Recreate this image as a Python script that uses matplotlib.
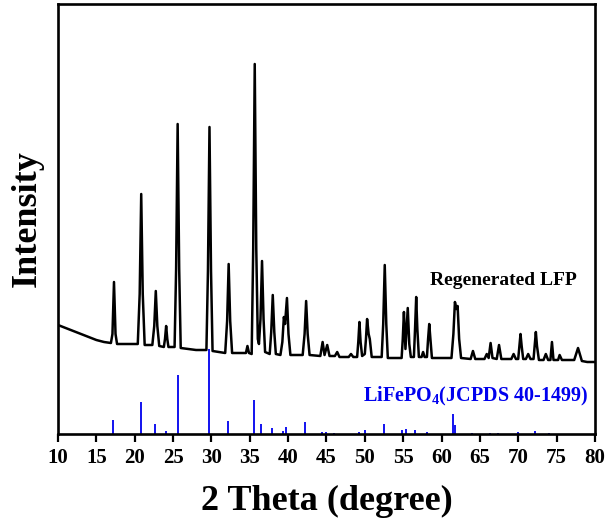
import matplotlib
matplotlib.use("Agg")
import matplotlib.pyplot as plt

plt.rcParams['font.family'] = ['Liberation Serif', 'DejaVu Serif']
plt.rcParams['font.weight'] = 'bold'
plt.rcParams['mathtext.fontset'] = 'custom'
plt.rcParams['mathtext.rm'] = 'Liberation Serif:bold'
plt.rcParams['mathtext.it'] = 'Liberation Serif:bold'
plt.rcParams['mathtext.bf'] = 'Liberation Serif:bold'

# Regenerated LFP measured pattern (2theta, intensity in arbitrary units)
trace_2theta = [
    10.0, 11.0, 12.0, 13.0, 14.0, 15.0, 16.0, 16.9, 17.1, 17.3, 17.5, 17.7,
    18.5, 19.5, 20.4, 20.65, 20.85, 21.05, 21.3, 22.3, 22.55, 22.75, 22.95, 23.2,
    23.8, 23.95, 24.1, 24.25, 24.4, 25.2, 25.4, 25.6, 25.8, 26.0, 27.0, 28.0,
    29.0, 29.35, 29.55, 29.75, 29.95, 30.15, 31.0, 31.8, 32.05, 32.25, 32.45, 32.7,
    34.0, 34.5, 34.7, 34.9, 35.25, 35.45, 35.65, 35.85, 36.05, 36.2, 36.4, 36.6,
    36.8, 37.0, 37.6, 37.8, 38.0, 38.2, 38.4, 39.0, 39.25, 39.45, 39.6, 39.85,
    40.05, 40.3, 41.9, 42.15, 42.35, 42.55, 42.8, 44.2, 44.5, 44.75, 45.1, 45.4,
    46.1, 46.4, 46.7, 47.9, 48.2, 48.5, 49.0, 49.15, 49.3, 49.45, 49.65, 50.0,
    50.15, 50.3, 50.5, 50.65, 50.9, 52.2, 52.4, 52.6, 52.8, 53.0, 54.8, 54.95,
    55.1, 55.3, 55.45, 55.6, 55.8, 56.0, 56.4, 56.55, 56.7, 56.85, 57.05, 57.4,
    57.6, 57.8, 58.1, 58.25, 58.4, 58.55, 58.75, 61.3, 61.55, 61.75, 61.95, 62.1,
    62.3, 62.55, 63.8, 64.1, 64.4, 65.6, 65.9, 66.15, 66.4, 66.65, 67.2, 67.5,
    67.8, 69.1, 69.4, 69.7, 70.0, 70.15, 70.3, 70.45, 70.65, 71.0, 71.3, 71.6,
    72.0, 72.15, 72.3, 72.45, 72.7, 73.3, 73.6, 73.9, 74.2, 74.4, 74.6, 75.2,
    75.4, 75.7, 77.3, 77.8, 78.3, 79.0, 80.0,
]
trace_intensity = [
    109, 106, 103, 100, 97, 94, 92, 91, 100, 152, 100, 90,
    90, 90, 90, 140, 240, 140, 89, 89, 108, 143, 108, 88,
    87, 95, 108, 95, 87, 87, 165, 310, 165, 86, 85, 84,
    84, 84, 163, 307, 163, 83, 82, 81, 113, 170, 113, 81,
    81, 81, 88, 81, 80, 185, 370, 185, 95, 90, 115, 173,
    115, 82, 80, 102, 139, 102, 80, 79, 92, 117, 110, 136,
    100, 79, 79, 100, 133, 100, 79, 78, 92, 79, 89, 78,
    78, 82, 77, 77, 80, 77, 77, 92, 112, 92, 78, 80,
    95, 115, 100, 95, 77, 77, 110, 169, 110, 76, 76, 95,
    122, 85, 105, 126, 90, 77, 77, 105, 137, 105, 77, 77,
    82, 77, 77, 95, 110, 95, 76, 76, 100, 132, 125, 128,
    95, 76, 75, 83, 75, 75, 80, 76, 91, 76, 75, 89,
    75, 75, 80, 75, 75, 88, 100, 88, 75, 75, 80, 75,
    75, 88, 102, 88, 74, 74, 80, 74, 74, 92, 74, 74,
    79, 74, 74, 86, 73, 72, 72,
]

# Reference pattern LiFePO4 (JCPDS 40-1499)
ref_2theta = [17.2, 20.8, 22.7, 24.1, 25.6, 29.7, 32.2, 35.6, 36.5, 37.9,
              39.3, 39.7, 42.2, 44.4, 44.9, 46.0, 49.3, 50.0, 52.5, 54.9,
              55.4, 56.5, 58.1, 61.5, 61.8, 64.0, 66.3, 67.4, 70.0, 72.2, 74.0]
ref_intensity = [14, 32, 10, 3.5, 59, 85, 13, 34, 10, 6,
                 3, 7, 12, 2, 2, 1, 2, 4, 10, 4,
                 5, 4, 2, 20, 9, 1, 1.5, 1.5, 2, 3, 1.5]

xticks = [10, 15, 20, 25, 30, 35, 40, 45, 50, 55, 60, 65, 70, 75, 80]

fig = plt.figure(figsize=(6.06, 5.26), dpi=100)
ax = fig.add_axes([0.0957, 0.1749, 0.886, 0.8175])

ax.plot(trace_2theta, trace_intensity, color='black', lw=1.8)
ax.vlines(ref_2theta, 0, ref_intensity, color='#0000ee', lw=1.3)

ax.set_xlim(10, 80)
ax.set_ylim(0, 430)
ax.set_xticks(xticks)
ax.set_yticks([])
ax.tick_params(axis='x', direction='out', length=6, width=1.6, labelsize=15, pad=4)
for lab in ax.get_xticklabels():
    lab.set_fontweight('bold')
for s in ax.spines.values():
    s.set_linewidth(1.9)

ax.set_xlabel('2 Theta (degree)', fontsize=26, fontweight='bold', labelpad=12)
ax.set_ylabel('Intensity', fontsize=26, fontweight='bold', labelpad=10)

ax.text(68.1, 154, 'Regenerated LFP', fontsize=14, fontweight='bold',
        ha='center', va='center', color='black')
ax.text(64.4, 38, 'LiFePO$_4$(JCPDS 40-1499)', fontsize=14.5, fontweight='bold',
        ha='center', va='center', color='#0000ee')

fig.savefig('out.png', dpi=100)
